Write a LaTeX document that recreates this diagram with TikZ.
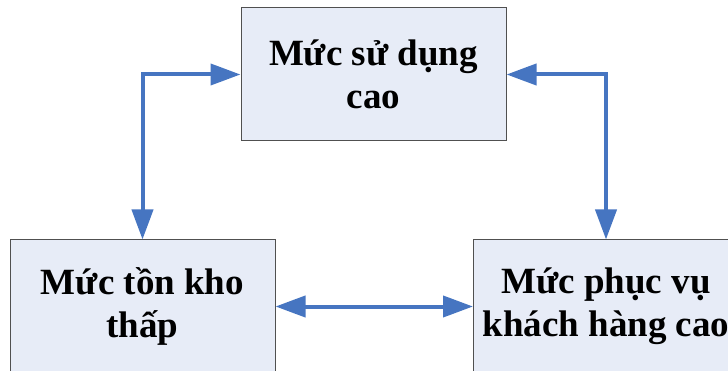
\documentclass[tikz,border=0pt]{standalone}
\usepackage{fontspec}
\setmainfont{Liberation Serif}
\usetikzlibrary{arrows.meta}
\definecolor{boxfill}{RGB}{231,236,247}
\definecolor{boxline}{RGB}{80,80,80}
\definecolor{arrowblue}{RGB}{70,117,193}

\begin{document}
\begin{tikzpicture}[x=1pt,y=-1pt,
		muc/.style={draw=boxline,line width=1pt,fill=boxfill,minimum width=265pt,minimum height=133pt,inner sep=0pt,align=center,font=\fontsize{37}{43}\selectfont\bfseries},
		lienket/.style={draw=arrowblue,line width=4pt,{Triangle[length=30pt,width=21pt]}-{Triangle[length=30pt,width=21pt]}}]
				\clip (0,0) rectangle (728,371);
				\node[muc] (sudung) at (373.5,74.5) {Mức sử dụng\\cao};
				\node[muc] (tonkho) at (142.5,306.5) {Mức tồn kho\\thấp};
				\node[muc] (phucvu) at (606,306.5) {Mức phục vụ\\khách hàng cao};
				\draw[lienket] (sudung.west) -| (tonkho.north);
				\draw[lienket] (sudung.east) -| (phucvu.north);
				\draw[lienket] (tonkho.east) -- (phucvu.west);
			\end{tikzpicture}
\end{document}
